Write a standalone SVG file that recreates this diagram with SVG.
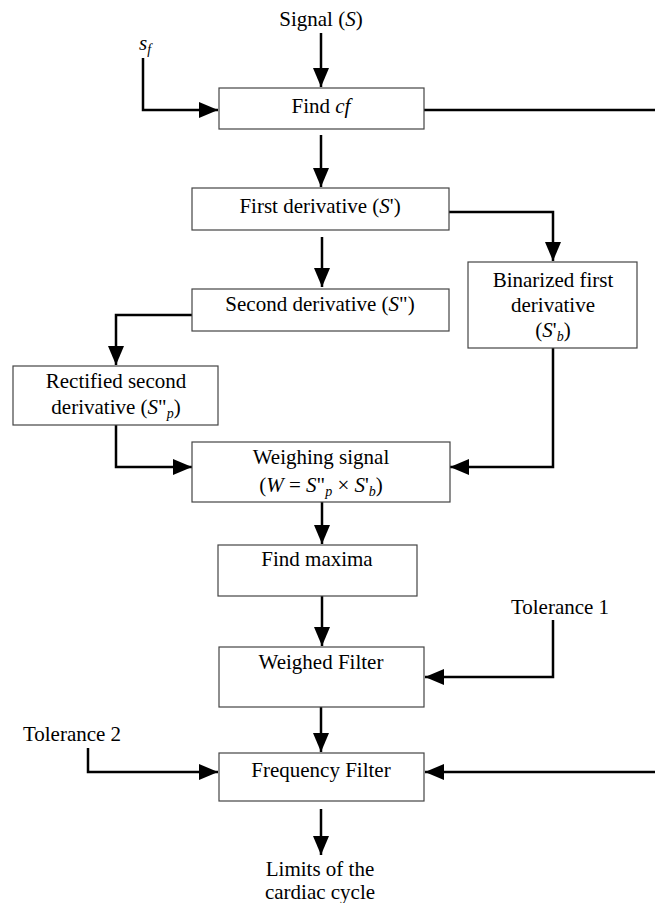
<svg xmlns="http://www.w3.org/2000/svg" width="655" height="903" viewBox="0 0 655 903">
<style>
text{font-family:"Liberation Serif","Times New Roman",serif;font-size:21px;fill:#000;text-anchor:middle}
.l{text-anchor:start}
.i{font-style:italic}
.box{fill:#fff;stroke:#444;stroke-width:1.2}
.c{fill:none;stroke:#000;stroke-width:2.5}
</style>
<defs>
<marker id="a" markerUnits="userSpaceOnUse" markerWidth="20" markerHeight="16" refX="19" refY="8" orient="auto">
<path d="M0,0 L19,8 L0,16 Z" fill="#000"/>
</marker>
</defs>
<g id="connectors">
<path class="c" d="M321,33 V87" marker-end="url(#a)"/>
<path class="c" d="M143,58 V110 H218" marker-end="url(#a)"/>
<path class="c" d="M424,110 H655"/>
<path class="c" d="M321,135 V187" marker-end="url(#a)"/>
<path class="c" d="M449,212 H553 V261" marker-end="url(#a)"/>
<path class="c" d="M322,237 V287" marker-end="url(#a)"/>
<path class="c" d="M192,315 H116 V365" marker-end="url(#a)"/>
<path class="c" d="M116,425 V467 H192" marker-end="url(#a)"/>
<path class="c" d="M553,348 V467 H450" marker-end="url(#a)"/>
<path class="c" d="M322,502 V544" marker-end="url(#a)"/>
<path class="c" d="M322,596 V646" marker-end="url(#a)"/>
<path class="c" d="M553,620 V677 H425" marker-end="url(#a)"/>
<path class="c" d="M321,707 V752" marker-end="url(#a)"/>
<path class="c" d="M88,748 V772 H218" marker-end="url(#a)"/>
<path class="c" d="M655,772 H425" marker-end="url(#a)"/>
<path class="c" d="M321,809 V855" marker-end="url(#a)"/>
</g>
<g id="signal"><text x="321" y="26">Signal (<tspan class="i">S</tspan>)</text></g>
<g id="sf"><text class="l i" x="139" y="50">s<tspan font-size="14" dy="4">f</tspan></text></g>
<g id="findcf"><rect class="box" x="219" y="88" width="205" height="41"/><text x="321" y="113">Find <tspan class="i">cf</tspan></text></g>
<g id="first"><rect class="box" x="192" y="188" width="257" height="42"/><text x="320" y="213">First derivative (<tspan class="i">S</tspan>')</text></g>
<g id="second"><rect class="box" x="192" y="289" width="257" height="42"/><text x="320" y="311">Second derivative (<tspan class="i">S</tspan>")</text></g>
<g id="binarized"><rect class="box" x="468" y="262" width="169" height="86"/><text x="553" y="287">Binarized first</text><text x="553" y="312">derivative</text><text x="553" y="337">(<tspan class="i">S</tspan>'<tspan class="i" font-size="14" dy="4">b</tspan><tspan dy="-4">)</tspan></text></g>
<g id="rectified"><rect class="box" x="13" y="366" width="205" height="59"/><text x="116" y="388">Rectified second</text><text x="116" y="414">derivative (<tspan class="i">S</tspan>"<tspan class="i" font-size="14" dy="4">p</tspan><tspan dy="-4">)</tspan></text></g>
<g id="weighing"><rect class="box" x="192" y="442" width="258" height="60"/><text x="321" y="464">Weighing signal</text><text x="321" y="492">(<tspan class="i">W</tspan> = <tspan class="i">S</tspan>"<tspan class="i" font-size="14" dy="4">p</tspan><tspan dy="-4"> × </tspan><tspan class="i">S</tspan>'<tspan class="i" font-size="14" dy="4">b</tspan><tspan dy="-4">)</tspan></text></g>
<g id="maxima"><rect class="box" x="218" y="545" width="199" height="51"/><text x="317" y="566">Find maxima</text></g>
<g id="tol1"><text x="560" y="614">Tolerance 1</text></g>
<g id="weighed"><rect class="box" x="219" y="647" width="205" height="60"/><text x="321" y="669">Weighed Filter</text></g>
<g id="tol2"><text x="72" y="741">Tolerance 2</text></g>
<g id="frequency"><rect class="box" x="219" y="753" width="205" height="48"/><text x="321" y="777">Frequency Filter</text></g>
<g id="limits"><text x="320" y="876">Limits of the</text><text x="320" y="899">cardiac cycle</text></g>
</svg>
